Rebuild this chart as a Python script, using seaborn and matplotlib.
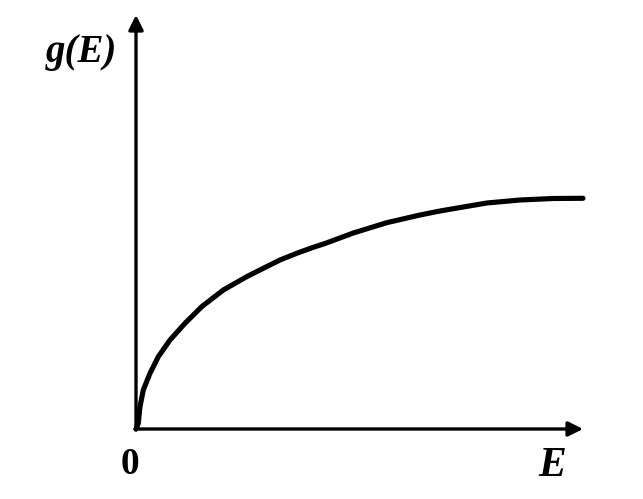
import numpy as np
import pandas as pd
import matplotlib
matplotlib.use('Agg')
import matplotlib.pyplot as plt
import seaborn as sns

# Curve (arbitrary units, origin at 0,0)
energy = [0, 2.3, 4, 7.3, 14, 22.3, 34, 49, 65.7, 87.3, 110.7, 127.3, 144,
          160.7, 177.3, 189, 217.3, 250.7, 284, 304, 350.7, 384, 417.3, 447]
g_vals = [0, 5.7, 22.3, 39, 55.7, 72.3, 89, 105.7, 122.3, 139, 152.3, 160.7, 169,
          175.7, 181.7, 185.5, 196, 206.3, 214, 218, 226, 229, 230.5, 230.7]

x_axis_end = 447
y_axis_end = 414

sns.set_theme(style="white")
plt.rcParams['font.family'] = ['Liberation Serif', 'DejaVu Serif']
plt.rcParams['text.color'] = 'black'

fig = plt.figure(figsize=(6.43, 4.99), dpi=100)
ax = fig.add_axes([0, 0, 1, 1])
ax.set_xlim(-136, 507)
ax.set_ylim(-70, 429)
ax.axis('off')

df = pd.DataFrame({'E': energy, 'g': g_vals})
sns.lineplot(data=df, x='E', y='g', ax=ax, color='black', linewidth=3.7, sort=False,
             solid_joinstyle='round', solid_capstyle='round')

# Axes with arrow heads
ax.annotate('', xy=(x_axis_end, 0), xytext=(-1, 0),
            arrowprops=dict(arrowstyle='-|>', lw=2.4, color='black', mutation_scale=22,
                            shrinkA=0, shrinkB=0))
ax.annotate('', xy=(0, y_axis_end), xytext=(0, -1),
            arrowprops=dict(arrowstyle='-|>', lw=2.4, color='black', mutation_scale=22,
                            shrinkA=0, shrinkB=0))

ax.text(-55, 377, 'g(E)', fontsize=28, fontweight='bold', fontstyle='italic',
        ha='center', va='center', color='black')
ax.text(-6, -35, '0', fontsize=27, fontweight='bold', ha='center', va='center',
        color='black')
ax.text(416.5, -37, 'E', fontsize=30, fontweight='bold', fontstyle='italic',
        ha='center', va='center', color='black')

plt.savefig('out.png', dpi=100)
